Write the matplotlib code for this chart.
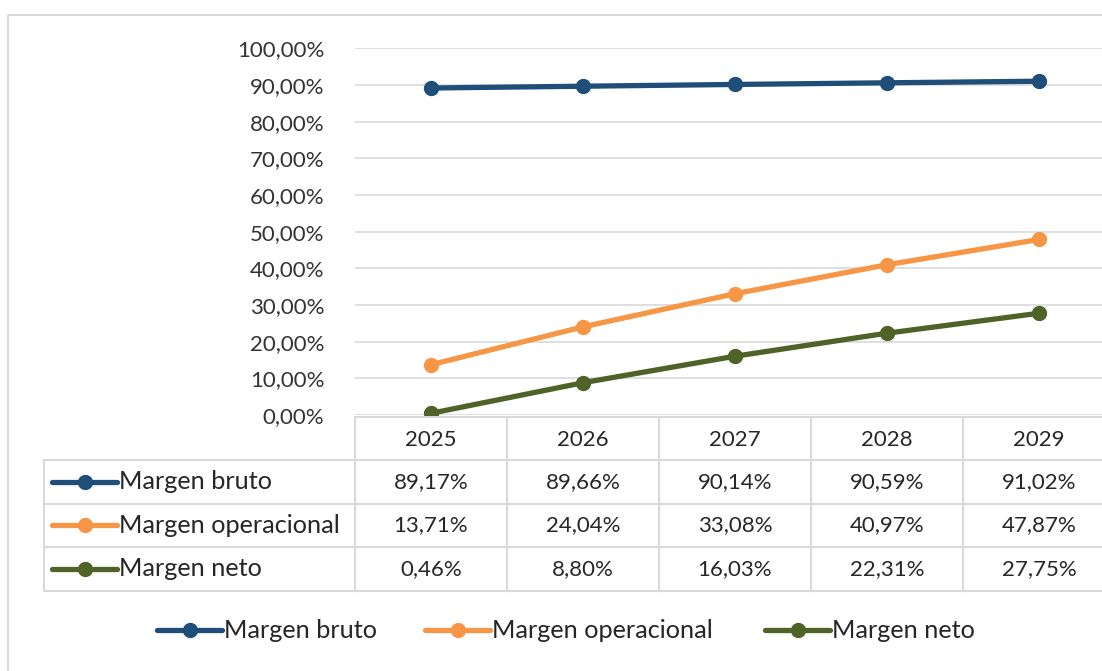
import matplotlib
matplotlib.use("Agg")
import matplotlib.pyplot as plt
from matplotlib.patches import Rectangle
import numpy as np

plt.rcParams['font.family'] = ['Lato', 'DejaVu Sans']

years = ["2025", "2026", "2027", "2028", "2029"]
series_names = ["Margen bruto", "Margen operacional", "Margen neto"]
margen_bruto = [89.17, 89.66, 90.14, 90.59, 91.02]
margen_operacional = [13.71, 24.04, 33.08, 40.97, 47.87]
margen_neto = [0.46, 8.80, 16.03, 22.31, 27.75]
colors = ["#1F4E79", "#F79646", "#4F6228"]
y_ticks = [0, 10, 20, 30, 40, 50, 60, 70, 80, 90, 100]

series = [margen_bruto, margen_operacional, margen_neto]

def fmt(v):
    return f"{v:.2f}".replace(".", ",") + "%"

W, H = 1102, 671
fig = plt.figure(figsize=(W / 100, H / 100), dpi=100)

ov = fig.add_axes([0, 0, 1, 1])
ov.set_xlim(0, W)
ov.set_ylim(H, 0)
ov.axis("off")

LW = 3.8
MS = 10
fs_num = 16
fs_lab = 18.2

left_px, right_px, top_px, bot_px = 355, 1115, 48.3, 415
ax = fig.add_axes([left_px / W, 1 - bot_px / H, (right_px - left_px) / W, (bot_px - top_px) / H])
ax.set_zorder(2)
ax.patch.set_alpha(0)
x = np.arange(len(years))
for vals, c in zip(series, colors):
    ax.plot(x, vals, color=c, lw=LW, marker="o", ms=MS, solid_capstyle="round")
ax.set_xlim(-0.5, len(years) - 0.5)
ax.set_ylim(0, 100)
ax.set_yticks(y_ticks)
ax.set_yticklabels([fmt(t) for t in y_ticks], fontsize=fs_num, color="#333333")
ax.set_xticks([])
ax.tick_params(axis="y", length=0, pad=22)
ax.grid(axis="y", color="#d9d9d9", lw=1.2)
ax.set_axisbelow(True)
for s in ax.spines.values():
    s.set_visible(False)

gc = "#d9d9d9"
lw_t = 1.5
ov.add_patch(Rectangle((8, 15), 1200, 800, fill=False, ec=gc, lw=1.5))

col_w = (right_px - left_px) / len(years)
row_tops = [417, 460, 503.5, 547, 591]
tbl_left = 44
ov.plot([left_px, right_px], [row_tops[0], row_tops[0]], color=gc, lw=lw_t)
for yy in row_tops[1:]:
    ov.plot([tbl_left, right_px], [yy, yy], color=gc, lw=lw_t)
for i in range(len(years) + 1):
    xx = left_px + i * col_w
    ov.plot([xx, xx], [row_tops[0], row_tops[-1]], color=gc, lw=lw_t)
ov.plot([tbl_left, tbl_left], [row_tops[1], row_tops[-1]], color=gc, lw=lw_t)

tc = "#262626"
for i, yv in enumerate(years):
    ov.text(left_px + (i + 0.5) * col_w, (row_tops[0] + row_tops[1]) / 2 + 1, yv,
            ha="center", va="center", fontsize=fs_num, color=tc)
for r, (name, vals, c) in enumerate(zip(series_names, series, colors)):
    yc = (row_tops[r + 1] + row_tops[r + 2]) / 2
    ov.plot([52, 117], [yc, yc], color=c, lw=LW, solid_capstyle="round")
    ov.plot([85], [yc], marker="o", ms=MS, color=c)
    ov.text(119, yc, name, ha="left", va="center", fontsize=fs_lab, color=tc)
    for i, v in enumerate(vals):
        ov.text(left_px + (i + 0.5) * col_w, yc, fmt(v), ha="center", va="center",
                fontsize=fs_num, color=tc)

leg_y = 630
leg_x = [157, 425, 765]
for lx, name, c in zip(leg_x, series_names, colors):
    ov.plot([lx, lx + 65], [leg_y, leg_y], color=c, lw=LW, solid_capstyle="round")
    ov.plot([lx + 33], [leg_y], marker="o", ms=MS, color=c)
    ov.text(lx + 67, leg_y, name, ha="left", va="center", fontsize=fs_lab, color=tc)

fig.savefig("out.png", dpi=100)
